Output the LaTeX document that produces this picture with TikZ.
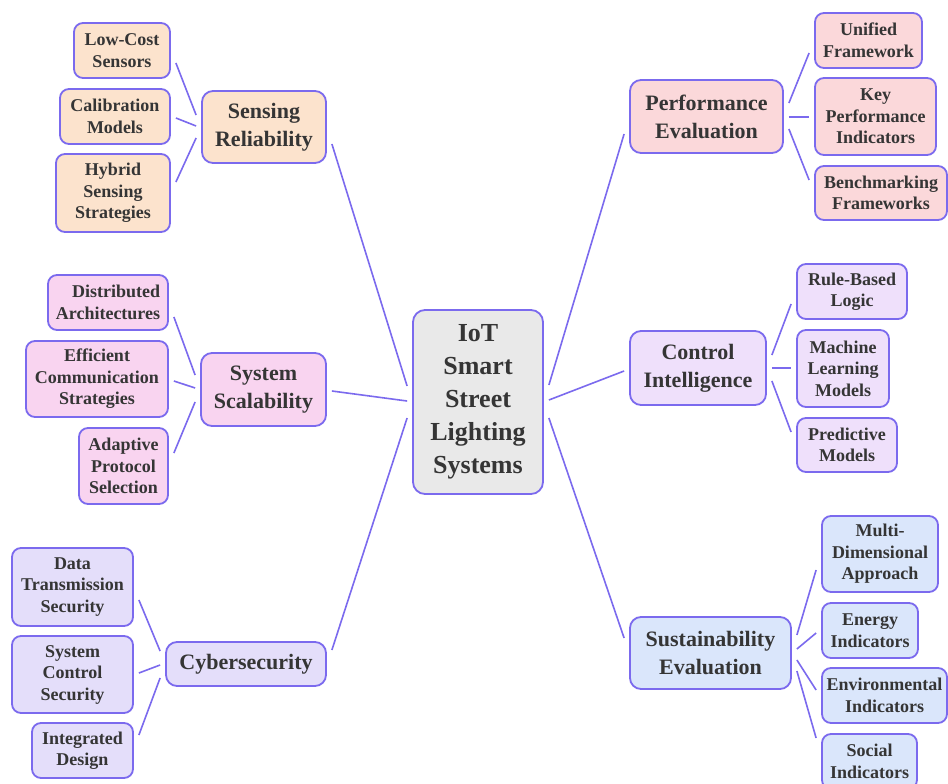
\documentclass[tikz,border=0pt]{standalone}
\usepackage{fontspec}
\setmainfont{Liberation Serif}[BoldFont={Liberation Serif Bold}]
\usetikzlibrary{calc}
\definecolor{edge}{HTML}{7B6AEE}
\definecolor{txt}{HTML}{353535}
\definecolor{cHub}{HTML}{E9E9E9}
\definecolor{cSen}{HTML}{FCE3CD}
\definecolor{cSca}{HTML}{F9D4F0}
\definecolor{cCyb}{HTML}{E4DEFA}
\definecolor{cPer}{HTML}{FBD8DA}
\definecolor{cCon}{HTML}{EFE0FB}
\definecolor{cSus}{HTML}{DAE6FB}
\newcommand\lnk[4]{\draw[link] ($(#1.east |- 0,#2)+(5,0)$) -- ($(#3.west |- 0,#4)+(-5,0)$);}
\begin{document}
\begin{tikzpicture}[x=1pt,y=-1pt,
  box/.style={draw=edge, line width=1.8pt, rounded corners=9pt, text=txt, align=center, inner sep=0pt,
    font=\fontsize{18}{21.5}\selectfont\bfseries},
  branch/.style={box, rounded corners=11pt, font=\fontsize{22}{28}\selectfont\bfseries},
  hub/.style={box, rounded corners=12pt, font=\fontsize{26}{33}\selectfont\bfseries},
  link/.style={draw=edge, line width=1.6pt}]
\clip (0,0) rectangle (948,784);
\fill[white] (0,0) rectangle (948,784);

% hub
\node[hub, fill=cHub, minimum width=130pt, minimum height=184pt] (hub) at (478,402) {IoT\\Smart\\Street\\Lighting\\Systems};

% sensing
\node[branch, fill=cSen, minimum width=124pt, minimum height=72pt] (sen) at (264,127) {Sensing\\Reliability};
\node[box, fill=cSen, minimum width=96pt, minimum height=55pt] (lcs) at (122,50.5) {Low-Cost\\Sensors};
\node[box, fill=cSen, minimum width=110pt, minimum height=55pt] (cal) at (115,116.5) {Calibration\\Models};
\node[box, fill=cSen, minimum width=114pt, minimum height=78pt] (hyb) at (113,193) {Hybrid\\Sensing\\Strategies};

% scalability
\node[branch, fill=cSca, minimum width=125pt, minimum height=73pt] (sca) at (263.5,389.5) {System\\Scalability};
\node[box, fill=cSca, minimum width=120pt, minimum height=55pt, align=right] (dis) at (108,302.5) {Distributed\\Architectures};
\node[box, fill=cSca, minimum width=142pt, minimum height=76pt] (eff) at (97,379) {Efficient\\Communication\\Strategies};
\node[box, fill=cSca, minimum width=89pt, minimum height=76pt] (ada) at (123.5,466) {Adaptive\\Protocol\\Selection};

% cybersecurity
\node[branch, fill=cCyb, minimum width=160pt, minimum height=44pt] (cyb) at (246,664) {Cybersecurity};
\node[box, fill=cCyb, minimum width=121pt, minimum height=78pt] (dts) at (72.5,587) {Data\\Transmission\\Security};
\node[box, fill=cCyb, minimum width=121pt, minimum height=77pt] (scs) at (72.5,674.5) {System\\Control\\Security};
\node[box, fill=cCyb, minimum width=101pt, minimum height=55pt] (int) at (82.5,750.5) {Integrated\\Design};

% performance
\node[branch, fill=cPer, minimum width=153pt, minimum height=73pt] (per) at (706.5,116.5) {Performance\\Evaluation};
\node[box, fill=cPer, minimum width=107pt, minimum height=55pt] (uni) at (868.5,40.5) {Unified\\Framework};
\node[box, fill=cPer, minimum width=121pt, minimum height=77pt] (kpi) at (875.5,116.5) {Key\\Performance\\Indicators};
\node[box, fill=cPer, minimum width=132pt, minimum height=54pt] (ben) at (881,193) {Benchmarking\\Frameworks};

% control
\node[branch, fill=cCon, minimum width=136pt, minimum height=74pt] (con) at (698,368) {Control\\Intelligence};
\node[box, fill=cCon, minimum width=110pt, minimum height=55pt] (rul) at (852,291.5) {Rule-Based\\Logic};
\node[box, fill=cCon, minimum width=92pt, minimum height=77pt] (mac) at (843,368.5) {Machine\\Learning\\Models};
\node[box, fill=cCon, minimum width=100pt, minimum height=54pt] (pre) at (847,445) {Predictive\\Models};

% sustainability
\node[branch, fill=cSus, minimum width=161pt, minimum height=72pt] (sus) at (710.5,653) {Sustainability\\Evaluation};
\node[box, fill=cSus, minimum width=116pt, minimum height=76pt] (mul) at (880,554) {Multi-\\Dimensional\\Approach};
\node[box, fill=cSus, minimum width=96pt, minimum height=55pt] (ene) at (870,630.5) {Energy\\Indicators};
\node[box, fill=cSus, minimum width=125pt, minimum height=55pt] (env) at (884.5,695.5) {Environmental\\Indicators};
\node[box, fill=cSus, minimum width=95pt, minimum height=55pt] (soc) at (869.5,761.5) {Social\\Indicators};

% links
\lnk{lcs}{63}{sen}{115}
\lnk{cal}{118}{sen}{126}
\lnk{hyb}{182}{sen}{138}
\lnk{sen}{144}{hub}{386}

\lnk{dis}{317}{sca}{375}
\lnk{eff}{381}{sca}{388}
\lnk{ada}{453}{sca}{402}
\lnk{sca}{391}{hub}{401}

\lnk{dts}{600}{cyb}{651}
\lnk{scs}{673}{cyb}{665}
\lnk{int}{735}{cyb}{678}
\lnk{cyb}{650}{hub}{418}

\lnk{hub}{385}{per}{134}
\lnk{per}{103}{uni}{53}
\lnk{per}{117}{kpi}{117}
\lnk{per}{129}{ben}{180}

\lnk{hub}{400}{con}{371}
\lnk{con}{355}{rul}{304}
\lnk{con}{368}{mac}{368}
\lnk{con}{381}{pre}{432}

\lnk{hub}{418}{sus}{638}
\lnk{sus}{635}{mul}{570}
\lnk{sus}{649}{ene}{633}
\lnk{sus}{660}{env}{690}
\lnk{sus}{671}{soc}{738}
\end{tikzpicture}
\end{document}
